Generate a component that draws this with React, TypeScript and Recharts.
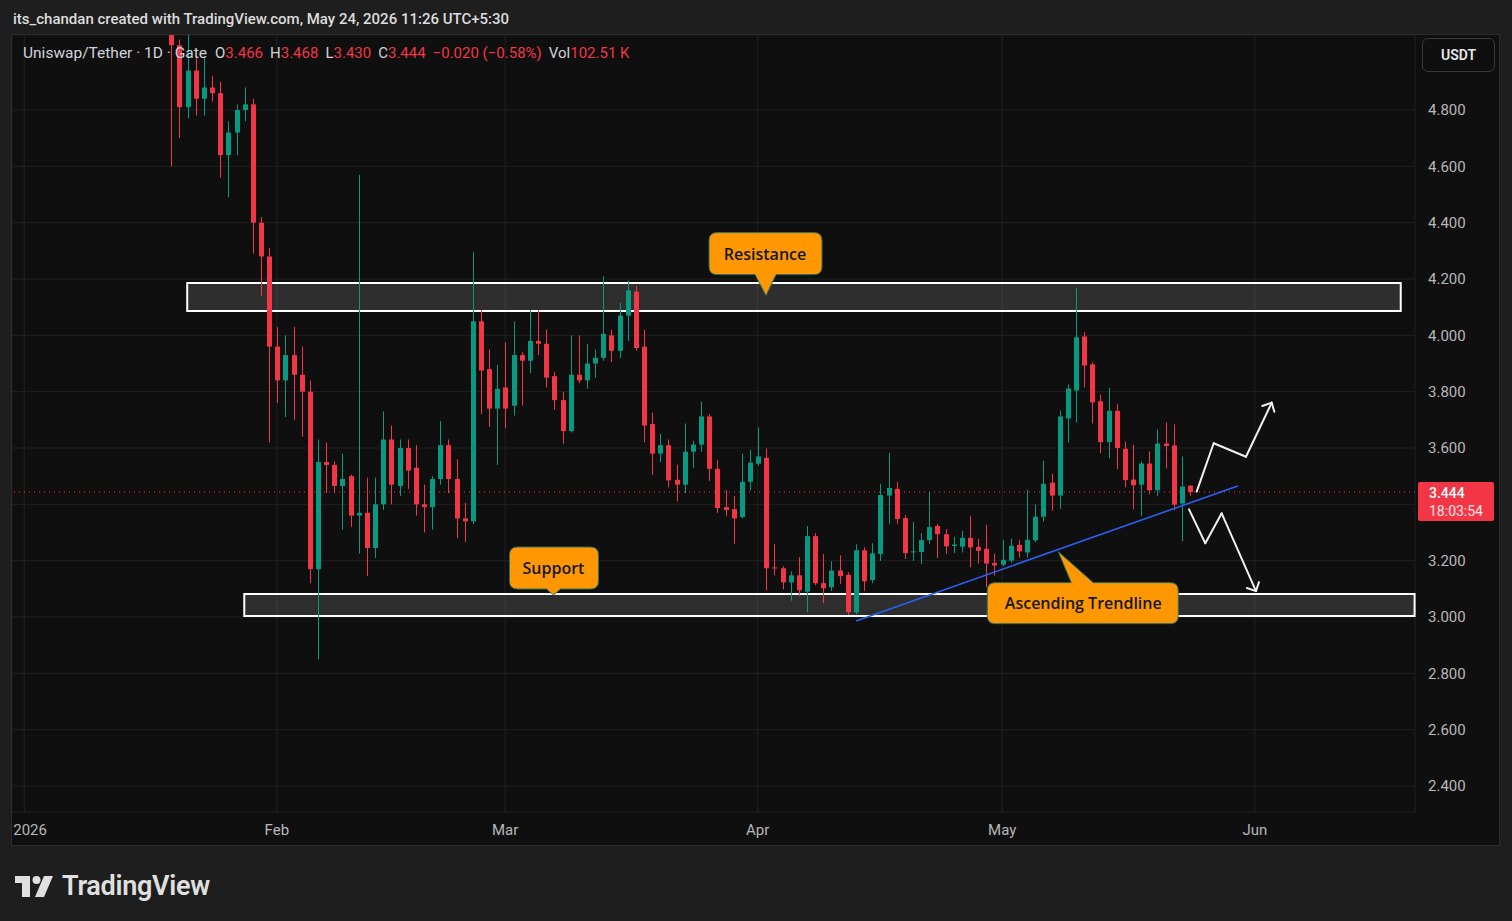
import React from 'react';
import {
  ComposedChart,
  Bar,
  XAxis,
  YAxis,
  CartesianGrid,
  ReferenceArea,
  ReferenceLine,
  ReferenceDot,
} from 'recharts';

// daily candles, Jan 19 2026 (day 18, Jan 1 = day 0) to May 24 2026
const firstDay = 18;

const opens = [
  5.12, 5.03, 4.81, 4.94, 4.84, 4.88, 4.86, 4.64, 4.72, 4.80, 4.82, 4.40, 4.28,
  3.96, 3.84, 3.93, 3.86, 3.80, 3.17, 3.55, 3.54, 3.465, 3.50, 3.36, 3.37, 3.245, 3.40, 3.63, 3.465, 3.60,
  3.53, 3.40, 3.39, 3.49, 3.61, 3.49, 3.35, 3.34, 4.05, 3.88, 3.74,
  3.815, 3.75, 3.93, 3.91, 3.98, 3.97, 3.855, 3.77, 3.66, 3.86, 3.84, 3.90, 3.92, 4.00, 3.945, 4.07,
  4.155, 3.96, 3.685, 3.58, 3.61, 3.487, 3.47, 3.587, 3.612, 3.712, 3.526, 3.39, 3.383, 3.355, 3.48,
  3.544, 3.565, 3.176, 3.173, 3.123, 3.148, 3.09, 3.287, 3.12, 3.106, 3.165, 3.15, 3.017, 3.237, 3.131,
  3.224, 3.431, 3.455, 3.351, 3.231, 3.231, 3.273, 3.323, 3.294, 3.252, 3.25, 3.281, 3.249, 3.242, 3.192,
  3.186, 3.20, 3.256, 3.229, 3.272, 3.356, 3.477, 3.431, 3.705, 3.804, 3.996, 3.897, 3.766, 3.621, 3.732,
  3.597, 3.488, 3.47, 3.545, 3.45, 3.616, 3.609, 3.403, 3.466,
];
const highs = [
  5.20, 5.05, 5.10, 4.99, 4.99, 4.92, 4.90, 4.76, 4.82, 4.88, 4.84, 4.42, 4.31,
  4.03, 4.00, 4.03, 3.96, 3.84, 3.63, 3.62, 3.553, 3.58, 3.505, 4.57, 3.495, 3.495, 3.73, 3.68, 3.63, 3.63,
  3.61, 3.47, 3.50, 3.695, 3.63, 3.56, 3.405, 4.295, 4.09, 3.95, 3.895,
  3.975, 4.05, 3.94, 4.09, 4.09, 4.02, 3.87, 3.80, 4.00, 4.00, 3.97, 3.95, 4.21, 4.02, 4.115, 4.195,
  4.175, 4.02, 3.725, 3.65, 3.63, 3.54, 3.687, 3.626, 3.765, 3.72, 3.558, 3.45, 3.43, 3.58, 3.594,
  3.673, 3.598, 3.258, 3.18, 3.162, 3.212, 3.323, 3.298, 3.223, 3.198, 3.219, 3.158, 3.258, 3.248, 3.262,
  3.473, 3.583, 3.48, 3.362, 3.337, 3.298, 3.444, 3.33, 3.312, 3.285, 3.306, 3.359, 3.278, 3.327, 3.224,
  3.274, 3.278, 3.274, 3.452, 3.399, 3.555, 3.509, 3.733, 3.826, 4.167, 4.011, 3.904, 3.79, 3.814, 3.757,
  3.622, 3.611, 3.552, 3.588, 3.666, 3.691, 3.684, 3.57, 3.468,
];
const lows = [
  4.60, 4.70, 4.77, 4.78, 4.78, 4.83, 4.56, 4.49, 4.64, 4.76, 4.29, 4.14, 3.62,
  3.76, 3.71, 3.70, 3.64, 3.12, 2.85, 3.44, 3.44, 3.31, 3.32, 3.225, 3.145, 3.21, 3.38, 3.40, 3.43, 3.455,
  3.36, 3.30, 3.31, 3.47, 3.44, 3.28, 3.265, 3.33, 3.72, 3.675, 3.54,
  3.67, 3.715, 3.75, 3.865, 3.93, 3.815, 3.735, 3.615, 3.655, 3.83, 3.81, 3.85, 3.91, 3.905, 3.92, 3.98,
  3.945, 3.62, 3.505, 3.55, 3.46, 3.41, 3.44, 3.53, 3.587, 3.483, 3.37, 3.358, 3.26, 3.35, 3.45,
  3.537, 3.094, 3.148, 3.098, 3.058, 3.074, 3.017, 3.113, 3.049, 3.092, 3.117, 3.007, 3.01, 3.092, 3.12,
  3.199, 3.331, 3.331, 3.206, 3.199, 3.188, 3.26, 3.21, 3.224, 3.227, 3.229, 3.177, 3.19, 3.106, 3.147,
  3.18, 3.193, 3.211, 3.211, 3.265, 3.339, 3.378, 3.384, 3.619, 3.69, 3.815, 3.687, 3.582, 3.564, 3.525,
  3.461, 3.382, 3.358, 3.436, 3.429, 3.527, 3.379, 3.269, 3.430,
];
const closes = [
  5.03, 4.81, 4.94, 4.84, 4.88, 4.86, 4.64, 4.72, 4.80, 4.82, 4.40, 4.28, 3.96,
  3.84, 3.93, 3.86, 3.80, 3.17, 3.55, 3.54, 3.465, 3.49, 3.36, 3.37, 3.245, 3.40, 3.63, 3.47, 3.60, 3.52,
  3.40, 3.39, 3.49, 3.61, 3.49, 3.35, 3.34, 4.05, 3.875, 3.74, 3.81,
  3.74, 3.93, 3.91, 3.98, 3.97, 3.85, 3.77, 3.66, 3.86, 3.84, 3.90, 3.92, 4.005, 3.945, 4.07, 4.16,
  3.955, 3.68, 3.58, 3.61, 3.485, 3.47, 3.587, 3.612, 3.712, 3.526, 3.387, 3.38, 3.35, 3.48, 3.548,
  3.57, 3.173, 3.173, 3.123, 3.148, 3.095, 3.287, 3.12, 3.102, 3.165, 3.145, 3.017, 3.237, 3.127, 3.226,
  3.433, 3.458, 3.348, 3.227, 3.233, 3.273, 3.319, 3.294, 3.251, 3.257, 3.281, 3.247, 3.235, 3.19, 3.183,
  3.203, 3.253, 3.233, 3.274, 3.356, 3.473, 3.431, 3.712, 3.811, 3.993, 3.893, 3.762, 3.621, 3.732, 3.60,
  3.486, 3.468, 3.545, 3.45, 3.616, 3.607, 3.399, 3.463, 3.444,
];

const monthTicks = [0, 31, 59, 90, 120, 151];
const monthLabels = ['2026', 'Feb', 'Mar', 'Apr', 'May', 'Jun'];
const priceTicks = [2.4, 2.6, 2.8, 3.0, 3.2, 3.4, 3.6, 3.8, 4.0, 4.2, 4.4, 4.6, 4.8];

// drawings: [dayFrom, dayTo, priceLow, priceHigh]
const resistanceZone = [20.0, 168.9, 4.086, 4.186];
const supportZone = [27.0, 170.6, 3.004, 3.082];
const trendline = [[102.06, 2.986], [148.9, 3.465]];
const upPath = [[143.86, 3.445], [145.95, 3.617], [149.91, 3.569], [153.07, 3.761]];
const upHead = [[151.91, 3.749], [153.07, 3.761], [153.39, 3.729]];
const downPath = [[142.92, 3.382], [144.92, 3.262], [146.93, 3.368], [151.14, 3.092]];
const downHead = [[150.03, 3.103], [151.14, 3.092], [151.5, 3.124]];
const resistanceTip = [91.02, 4.141];
const supportTip = [64.94, 3.078];
const trendTip = [126.88, 3.232];

const lastPrice = 3.444;
const countdown = '18:03:54';

const UP = '#089981';
const DOWN = '#f23645';
const FONT = 'Roboto, "Noto Sans", sans-serif';

const data = opens.map((o, i) => ({
  day: firstDay + i,
  open: o,
  high: highs[i],
  low: lows[i],
  close: closes[i],
  range: [lows[i], highs[i]],
}));

const segmentsOf = (pts: number[][]) =>
  pts.slice(1).map((p, i) => [
    { x: pts[i][0], y: pts[i][1] },
    { x: p[0], y: p[1] },
  ]);

const arrowSegments = [
  ...segmentsOf(upPath),
  ...segmentsOf(upHead),
  ...segmentsOf(downPath),
  ...segmentsOf(downHead),
];

const Candle = (props: any) => {
  const { x, y, width, height, payload } = props;
  if (x == null || !payload) return null;
  const { open, high, low, close } = payload;
  const top = Math.min(y, y + height);
  const h = Math.abs(height);
  const unit = h / (high - low);
  const py = (v: number) => top + (high - v) * unit;
  const cx = Math.round(x + width / 2);
  const color = close >= open ? UP : DOWN;
  const bodyTop = py(Math.max(open, close));
  const bodyH = Math.max(1, py(Math.min(open, close)) - bodyTop);
  return (
    <g>
      <line x1={cx + 0.5} x2={cx + 0.5} y1={top} y2={top + h} stroke={color} strokeWidth={1} />
      <rect x={cx - 2} y={bodyTop} width={5} height={bodyH} fill={color} />
    </g>
  );
};

// month label; the year label sits at the left edge, so it is anchored at its start
const MonthTick = (props: any) => {
  const { x, y, payload } = props;
  const idx = monthTicks.indexOf(payload.value);
  const first = idx === 0;
  return (
    <text
      x={first ? x - 11 : x}
      y={y}
      dy="0.71em"
      textAnchor={first ? 'start' : 'middle'}
      fill="#b8b8b8"
      fontSize={15}
      fontFamily={FONT}
    >
      {monthLabels[idx] ?? ''}
    </text>
  );
};

// rounded box with a pointer; box edges are given relative to the pointer tip
const Callout = ({ cx, cy, text, l, r, t, b, p1, p2, down, tx, ty }: any) => {
  const L = cx + l, R = cx + r, T = cy + t, B = cy + b;
  const rad = 8;
  const d = down
    ? `M${L + rad},${T} H${R - rad} Q${R},${T} ${R},${T + rad} V${B - rad} Q${R},${B} ${R - rad},${B} H${cx + p2} L${cx},${cy} L${cx + p1},${B} H${L + rad} Q${L},${B} ${L},${B - rad} V${T + rad} Q${L},${T} ${L + rad},${T} Z`
    : `M${L + rad},${T} H${cx + p1} L${cx},${cy} L${cx + p2},${T} H${R - rad} Q${R},${T} ${R},${T + rad} V${B - rad} Q${R},${B} ${R - rad},${B} H${L + rad} Q${L},${B} ${L},${B - rad} V${T + rad} Q${L},${T} ${L + rad},${T} Z`;
  return (
    <g>
      <path d={d} fill="#ff9800" stroke="#2f6f63" strokeWidth={1} />
      <text
        x={cx + tx}
        y={cy + ty}
        textAnchor="middle"
        dominantBaseline="central"
        fontFamily='"Open Sans", sans-serif'
        fontWeight={600}
        fontSize={16}
        fill="#131722"
      >
        {text}
      </text>
    </g>
  );
};

const PriceTag = (props: any) => {
  const vb = props.viewBox;
  if (!vb) return null;
  const x = vb.x + vb.width + 3;
  return (
    <g>
      <rect x={x} y={vb.y - 10} width={76} height={39} fill={DOWN} rx={2} />
      <text x={x + 11} y={vb.y + 1} dominantBaseline="central" fontFamily={FONT} fontSize={14} fontWeight={500} fill="#ffffff">
        {lastPrice.toFixed(3)}
      </text>
      <text x={x + 11} y={vb.y + 19} dominantBaseline="central" fontFamily={FONT} fontSize={14} fill="#ffe5e7">
        {countdown}
      </text>
    </g>
  );
};

const Logo = () => (
  <svg width={38} height={22} viewBox="0 0 38 22" style={{ display: 'block' }}>
    <rect x={0} y={1} width={15} height={7} fill="#e0e0e0" />
    <rect x={7} y={1} width={8} height={21} fill="#e0e0e0" />
    <circle cx={21.5} cy={5} r={4} fill="#e0e0e0" />
    <polygon points="29,1 38,1 29,22 20,22" fill="#e0e0e0" />
  </svg>
);

const App: React.FC = () => {
  return (
    <div
      style={{
        position: 'absolute',
        left: 0,
        top: 0,
        width: 1512,
        height: 921,
        background: '#1e1e1e',
        fontFamily: FONT,
        overflow: 'hidden',
      }}
    >
      <div style={{ position: 'absolute', left: 13, top: 10, fontSize: 15, fontWeight: 500, color: '#dcdcdc', whiteSpace: 'nowrap' }}>
        its_chandan created with TradingView.com, May 24, 2026 11:26 UTC+5:30
      </div>

      <div
        style={{
          position: 'absolute',
          left: 11,
          top: 34,
          width: 1487,
          height: 810,
          border: '1px solid #2c2c2c',
          background: '#0f0f0f',
        }}
      />

      <div style={{ position: 'absolute', left: 12, top: 35 }}>
        <ComposedChart width={1487} height={810} data={data} margin={{ top: 0, right: 0, bottom: 0, left: 0 }}>
          <CartesianGrid stroke="#212121" strokeWidth={1} />
          <XAxis
            dataKey="day"
            type="number"
            domain={[-1.5, 170.65]}
            allowDataOverflow
            ticks={monthTicks}
            interval={0}
            height={33}
            axisLine={false}
            tickLine={false}
            tickSize={0}
            tickMargin={12}
            tick={<MonthTick />}
          />
          <YAxis
            orientation="right"
            type="number"
            domain={[2.3077, 5.0663]}
            allowDataOverflow
            ticks={priceTicks}
            interval={0}
            tickFormatter={(v: number) => (Math.abs(v - lastPrice) < 0.07 ? '' : v.toFixed(3))}
            width={84}
            axisLine={false}
            tickLine={false}
            tickSize={0}
            tickMargin={13}
            tick={{ fill: '#b8b8b8', fontSize: 15, fontFamily: FONT, textAnchor: 'start' }}
          />
          <ReferenceArea
            x1={resistanceZone[0]}
            x2={resistanceZone[1]}
            y1={resistanceZone[2]}
            y2={resistanceZone[3]}
            fill="#ffffff"
            fillOpacity={0.13}
            stroke="#ffffff"
            strokeWidth={2}
            ifOverflow="visible"
          />
          <ReferenceArea
            x1={supportZone[0]}
            x2={supportZone[1]}
            y1={supportZone[2]}
            y2={supportZone[3]}
            fill="#ffffff"
            fillOpacity={0.13}
            stroke="#ffffff"
            strokeWidth={2}
            ifOverflow="visible"
          />
          <Bar dataKey="range" barSize={5} shape={Candle} isAnimationActive={false} />
          <ReferenceLine
            segment={[
              { x: trendline[0][0], y: trendline[0][1] },
              { x: trendline[1][0], y: trendline[1][1] },
            ]}
            stroke="#2962ff"
            strokeWidth={1.5}
          />
          {arrowSegments.map((seg, i) => (
            <ReferenceLine key={i} segment={seg} stroke="#f0f0f0" strokeWidth={2} strokeLinecap="round" />
          ))}
          <ReferenceLine y={lastPrice} stroke={DOWN} strokeDasharray="1 4" strokeWidth={1} label={<PriceTag />} />
          <ReferenceDot
            x={resistanceTip[0]}
            y={resistanceTip[1]}
            r={0}
            shape={(p: any) => (
              <Callout cx={p.cx} cy={p.cy} text="Resistance" l={-57} r={56} t={-63} b={-21} p1={-11} p2={10} down tx={-1} ty={-42} />
            )}
          />
          <ReferenceDot
            x={supportTip[0]}
            y={supportTip[1]}
            r={0}
            shape={(p: any) => (
              <Callout cx={p.cx} cy={p.cy} text="Support" l={-44} r={45} t={-48} b={-6} p1={-7} p2={7} down tx={0} ty={-27} />
            )}
          />
          <ReferenceDot
            x={trendTip[0]}
            y={trendTip[1]}
            r={0}
            shape={(p: any) => (
              <Callout cx={p.cx} cy={p.cy} text="Ascending Trendline" l={-71} r={120} t={31} b={72} p1={13} p2={35} tx={25} ty={51} />
            )}
          />
        </ComposedChart>
      </div>

      <div style={{ position: 'absolute', left: 23, top: 44, fontSize: 15.5, color: '#d1d4dc', whiteSpace: 'nowrap' }}>
        <span>Uniswap/Tether · 1D · Gate</span>
        <span style={{ fontSize: 15 }}>
          <span style={{ marginLeft: 8 }}>O<span style={{ color: DOWN }}>3.466</span></span>
          <span style={{ marginLeft: 7 }}>H<span style={{ color: DOWN }}>3.468</span></span>
          <span style={{ marginLeft: 7 }}>L<span style={{ color: DOWN }}>3.430</span></span>
          <span style={{ marginLeft: 7 }}>C<span style={{ color: DOWN }}>3.444</span></span>
          <span style={{ marginLeft: 7, color: DOWN }}>−0.020 (−0.58%)</span>
          <span style={{ marginLeft: 7 }}>Vol<span style={{ color: DOWN }}>102.51 K</span></span>
        </span>
      </div>

      <div
        style={{
          position: 'absolute',
          left: 1422,
          top: 38,
          width: 71,
          height: 32,
          border: '1px solid #3a3a3a',
          borderRadius: 6,
          color: '#e8e8e8',
          fontSize: 14,
          fontWeight: 600,
          display: 'flex',
          alignItems: 'center',
          justifyContent: 'center',
        }}
      >
        USDT
      </div>

      <div style={{ position: 'absolute', left: 15, top: 870, display: 'flex', alignItems: 'center' }}>
        <Logo />
        <span style={{ marginLeft: 9, fontSize: 27, fontWeight: 600, color: '#e0e0e0', letterSpacing: -0.3 }}>TradingView</span>
      </div>
    </div>
  );
};

export default App;
